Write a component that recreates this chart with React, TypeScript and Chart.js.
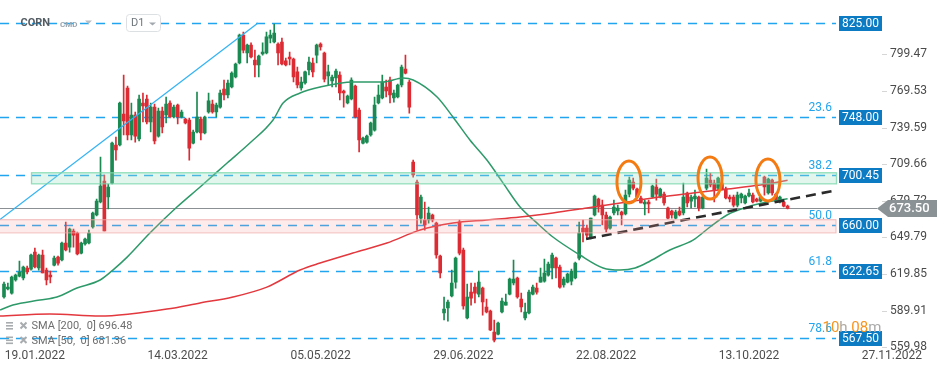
import React, { useEffect, useRef } from "react";
import { Chart, registerables } from "chart.js";

Chart.register(...registerables);

// ---- Daily OHLC (CORN, D1) ----
const OPEN = [
  601.1, 607.6, 604.3, 615.0, 618.2, 616.6, 624.8, 623.9, 637.8, 624.8,
  635.4, 623.1, 619.0, 627.2, 633.7, 631.3, 645.2, 641.9, 655.0, 653.4,
  637.0, 644.4, 645.2, 658.3, 668.1, 678.7, 695.9, 682.8, 694.2, 725.3,
  725.3, 750.6, 771.9, 733.5, 749.8, 730.2, 759.6, 762.9, 744.1, 756.3,
  732.6, 753.1, 749.8, 759.6, 748.2, 758.0, 748.2, 746.5, 745.7, 726.9,
  735.9, 746.5, 735.1, 752.3, 758.8, 752.3, 756.3, 771.1, 766.2, 772.7,
  780.9, 792.3, 815.2, 800.5, 807.0, 794.8, 790.7, 799.7, 800.5, 812.7,
  809.5, 807.8, 809.5, 794.0, 797.2, 795.6, 785.0, 771.9, 776.0, 786.6,
  792.3, 798.8, 807.8, 800.5, 781.7, 777.6, 780.1, 782.5, 769.4, 759.6,
  762.9, 773.5, 753.9, 726.9, 727.7, 733.5, 737.5, 759.6, 763.7, 772.7,
  778.4, 763.7, 764.5, 774.3, 787.4, 776.8, 711.4, 695.1, 665.6, 664.0,
  664.0, 668.1, 661.5, 634.6, 588.0, 592.1, 601.9, 613.3, 662.4, 639.5,
  583.9, 605.1, 609.2, 603.5, 608.4, 592.9, 589.6, 572.5, 570.8, 588.8,
  594.5, 603.5, 612.5, 616.6, 599.4, 583.9, 588.0, 603.5, 608.4, 613.3,
  614.1, 619.0, 624.8, 632.9, 625.6, 610.9, 613.3, 614.1, 616.6, 632.9,
  657.4, 657.4, 649.3, 668.1, 681.2, 676.2, 668.1, 657.4, 669.7, 671.4,
  670.5, 668.9, 685.2, 695.1, 689.3, 682.0, 677.1, 678.7, 682.8, 691.0,
  682.8, 685.2, 673.8, 671.4, 665.6, 671.4, 669.7, 686.1, 679.5, 681.2,
  682.8, 673.8, 690.1, 696.7, 694.2, 690.1, 694.2, 689.3, 682.8, 682.8,
  676.2, 682.0, 677.9, 683.6, 684.4, 681.2, 679.5, 699.1, 686.1, 696.7,
  685.2, 678.7, 678.7, 675.4,
];
const HIGH = [
  613.3, 612.5, 618.2, 619.9, 630.5, 626.4, 626.4, 636.2, 641.1, 636.2,
  639.5, 624.8, 622.3, 634.6, 634.6, 646.0, 662.4, 657.4, 656.6, 654.2,
  646.0, 649.3, 655.8, 670.5, 681.2, 715.5, 700.8, 693.4, 727.7, 731.8,
  760.4, 782.5, 773.5, 759.6, 752.3, 766.2, 767.8, 766.2, 759.6, 758.8,
  755.5, 756.3, 764.5, 761.3, 758.0, 758.8, 753.9, 747.4, 747.4, 737.5,
  768.6, 748.2, 749.0, 767.8, 762.1, 759.6, 770.2, 778.4, 778.4, 785.0,
  792.3, 816.0, 817.6, 807.8, 808.7, 802.9, 798.8, 808.7, 817.6, 819.3,
  824.2, 808.7, 812.7, 796.4, 801.3, 796.4, 789.0, 780.9, 785.8, 797.2,
  796.4, 807.8, 808.7, 801.3, 790.7, 782.5, 787.4, 785.0, 770.2, 766.2,
  780.1, 774.3, 755.5, 731.8, 733.5, 744.1, 764.5, 774.3, 782.5, 778.4,
  780.9, 770.2, 775.1, 790.7, 798.8, 778.4, 713.0, 696.7, 684.4, 678.7,
  674.6, 668.9, 662.4, 635.4, 601.1, 598.6, 623.1, 633.7, 664.0, 641.1,
  611.7, 612.5, 612.5, 622.3, 609.2, 599.4, 590.4, 582.3, 580.6, 600.2,
  603.5, 616.6, 631.3, 617.4, 604.3, 596.2, 606.8, 610.9, 612.5, 624.8,
  632.1, 629.7, 637.0, 633.7, 627.2, 617.4, 620.7, 623.9, 629.7, 662.4,
  664.0, 659.9, 665.6, 684.4, 682.0, 680.3, 670.5, 667.3, 680.3, 676.2,
  671.4, 688.5, 699.1, 698.3, 690.1, 683.6, 680.3, 680.3, 692.6, 697.5,
  690.1, 686.9, 674.6, 672.2, 672.2, 674.6, 694.2, 686.9, 684.4, 688.5,
  683.6, 683.6, 705.7, 702.4, 696.7, 699.1, 696.7, 691.0, 684.4, 684.4,
  686.9, 686.1, 684.4, 689.3, 686.1, 682.0, 683.6, 700.0, 698.3, 697.5,
  686.1, 683.6, 679.5, 676.2,
];
const LOW = [
  600.2, 606.8, 603.5, 614.1, 617.4, 615.0, 619.9, 623.1, 624.8, 623.1,
  620.7, 610.9, 612.5, 626.4, 627.2, 630.5, 638.7, 637.8, 641.9, 635.4,
  636.2, 643.5, 644.4, 657.4, 667.3, 677.9, 655.0, 673.0, 693.4, 713.0,
  724.5, 733.5, 729.4, 729.4, 727.7, 728.6, 744.1, 742.5, 735.9, 726.1,
  731.8, 735.1, 743.3, 747.4, 747.4, 742.5, 747.4, 742.5, 713.0, 726.1,
  735.1, 729.4, 734.3, 751.4, 751.4, 748.2, 755.5, 762.1, 763.7, 771.9,
  780.1, 791.5, 800.5, 792.3, 796.4, 780.9, 780.9, 798.8, 799.7, 808.7,
  808.7, 790.7, 790.7, 789.9, 790.7, 776.8, 771.9, 770.2, 775.1, 782.5,
  780.9, 792.3, 802.9, 776.8, 774.3, 772.7, 772.7, 762.1, 756.3, 758.8,
  762.1, 747.4, 719.6, 726.1, 726.9, 732.6, 736.7, 758.8, 762.9, 764.5,
  759.6, 760.4, 763.7, 772.7, 783.3, 751.4, 699.1, 655.8, 661.5, 655.8,
  661.5, 662.4, 632.9, 616.6, 582.3, 581.4, 601.1, 608.4, 635.4, 591.2,
  583.1, 594.5, 596.2, 601.1, 586.3, 588.0, 573.5, 564.3, 570.0, 588.0,
  594.5, 602.7, 610.9, 600.2, 588.8, 582.3, 587.2, 602.7, 603.5, 613.3,
  613.3, 618.2, 615.8, 616.6, 608.4, 609.2, 612.5, 610.9, 615.8, 631.3,
  646.0, 648.5, 648.5, 667.3, 670.5, 659.9, 654.2, 656.6, 668.1, 668.1,
  659.9, 668.1, 682.8, 688.5, 682.0, 677.9, 668.1, 669.7, 682.0, 680.3,
  682.0, 676.2, 664.8, 665.6, 664.8, 667.3, 668.1, 674.6, 673.8, 674.6,
  671.4, 673.0, 688.5, 691.0, 678.7, 688.5, 688.5, 681.2, 678.7, 674.6,
  674.6, 677.9, 677.1, 682.8, 677.9, 678.7, 678.7, 684.4, 685.2, 684.4,
  678.7, 677.9, 674.6, 673.0,
];
const CLOSE = [
  611.7, 609.2, 617.4, 619.0, 621.5, 625.6, 621.5, 635.4, 625.6, 635.4,
  620.7, 615.0, 617.4, 632.9, 628.8, 645.2, 639.5, 656.6, 651.7, 636.2,
  645.2, 648.5, 653.4, 669.7, 679.5, 691.8, 655.0, 691.0, 726.9, 721.2,
  759.6, 744.9, 733.5, 749.8, 732.6, 762.9, 757.2, 744.1, 756.3, 728.6,
  753.1, 740.0, 758.8, 748.2, 756.3, 748.2, 752.3, 743.3, 722.8, 735.9,
  748.2, 735.1, 748.2, 761.3, 752.3, 758.0, 767.8, 766.2, 776.0, 784.1,
  791.5, 815.2, 802.9, 807.0, 797.2, 790.7, 798.0, 801.3, 813.6, 815.2,
  816.8, 800.5, 791.5, 790.7, 795.6, 780.9, 774.3, 776.8, 785.0, 793.1,
  785.0, 807.0, 805.4, 779.2, 785.0, 780.9, 785.8, 767.8, 767.8, 765.3,
  778.4, 748.2, 729.4, 731.0, 732.6, 743.3, 758.0, 766.2, 776.8, 769.4,
  766.2, 767.8, 774.3, 789.0, 784.1, 756.3, 700.8, 668.1, 682.8, 659.9,
  669.7, 664.0, 635.4, 620.7, 591.2, 597.0, 612.5, 632.9, 637.0, 593.7,
  601.1, 600.2, 604.3, 613.3, 597.0, 588.8, 574.1, 565.9, 579.8, 597.8,
  597.0, 615.8, 615.8, 601.1, 592.9, 588.8, 605.1, 609.2, 605.1, 617.4,
  620.7, 628.0, 635.4, 624.8, 609.2, 615.8, 619.9, 622.3, 628.8, 653.4,
  654.2, 651.7, 665.6, 683.6, 674.6, 668.1, 656.6, 666.4, 674.6, 673.8,
  668.1, 684.4, 696.7, 690.1, 682.8, 677.9, 678.7, 677.1, 691.8, 685.2,
  689.3, 677.9, 665.6, 668.1, 670.5, 668.1, 682.8, 677.9, 682.8, 683.6,
  673.8, 682.8, 698.3, 692.6, 688.5, 698.3, 688.5, 682.0, 681.2, 676.2,
  684.4, 685.2, 683.6, 686.1, 678.7, 679.5, 682.8, 691.0, 697.5, 686.1,
  679.5, 682.8, 675.4, 673.5,
];

// ---- axis labels ----
const DATE_TICK_INDEX = [8, 45, 82, 119, 156, 193, 230];
const DATE_TICK_LABELS = ["19.01.2022", "14.03.2022", "05.05.2022", "29.06.2022", "22.08.2022", "13.10.2022", "27.11.2022"];
const PRICE_TICKS = [559.98, 589.91, 619.85, 649.79, 679.72, 709.66, 739.59, 769.53, 799.47];

// ---- moving averages ----
const SMA50_X = [-1.0, 2.3, 9.3, 13.7, 18.9, 24.9, 28.2, 31.9, 37.8, 44.8, 50.8, 57.8, 63.7, 69.7, 72.3, 76.7, 81.9, 90.4, 98.2, 103.4, 106.0, 112.2, 116.3, 120.7, 125.1, 129.3, 133.7, 138.1, 142.2, 149.2, 155.2, 159.6, 163.5, 167.4, 172.5, 178.5, 182.9, 187.3, 192.5, 197.7, 203];
const SMA50_Y = [590.4, 594.5, 598.6, 601.1, 608.4, 615.0, 623.1, 633.7, 653.4, 674.6, 691.0, 710.6, 726.9, 745.7, 759.6, 767.8, 772.7, 776.8, 776.8, 780.1, 778.4, 764.5, 748.2, 729.4, 713.0, 694.2, 674.6, 661.5, 650.1, 635.4, 624.8, 623.1, 624.8, 630.5, 639.5, 647.6, 658.3, 668.1, 674.6, 678.7, 681.4];
const SMA200_X = [-1.04, 11.9, 24.9, 32.6, 42.2, 50.8, 59.3, 68.1, 76.7, 81.9, 90.4, 99.2, 107.8, 116.3, 125.1, 133.7, 142.2, 151.0, 161.4, 169.9, 178.5, 187.3, 195.9, 203];
const SMA200_Y = [585.5, 587.2, 585.5, 587.2, 591.2, 596.2, 601.1, 609.2, 623.1, 628.8, 637.0, 645.2, 655.8, 661.5, 664.0, 666.4, 669.7, 673.8, 678.7, 682.8, 686.1, 689.3, 692.6, 696.5];
const SMA200_LAST = "696.48";
const SMA50_LAST = "681.36";

// ---- drawings ----
const FIB_LEVELS = [825.0, 748.0, 700.45, 660.0, 622.65, 567.5];
const FIB_NAMES = ["", "23.6", "38.2", "50.0", "61.8", "78.6"];
const GREEN_ZONE = [694.0, 703.0];
const GREEN_ZONE_START = 7;
const RED_ZONE = [653.9, 664.6];
const LAST_PRICE = 673.5;
const CHANNEL_X = [-1.04, 65.8];
const CHANNEL_Y = [664.4, 825.0];
const TREND_X = [150.8, 215.3];
const TREND_Y = [648.5, 688.1];
const MARK_X = [161.9, 182.9, 197.9];
const MARK_Y = [695.1, 698.3, 696.7];

const UP = "#1b8a52";
const DOWN = "#dc2b33";
const FIB_BLUE = "#22a5ef";
const BOX_BLUE = "#0d7bc4";
const FONT = "Roboto, 'Noto Sans', sans-serif";

const overlay = {
  id: "overlay",
  beforeDatasetsDraw(chart: any) {
    const { ctx, chartArea: a, scales } = chart;
    const y = scales.y;
    ctx.save();
    ctx.setLineDash([9, 7]);
    ctx.strokeStyle = FIB_BLUE;
    ctx.lineWidth = 1.3;
    FIB_LEVELS.forEach((v) => {
      const py = Math.round(y.getPixelForValue(v)) + 0.5;
      ctx.beginPath();
      ctx.moveTo(a.left, py);
      ctx.lineTo(a.right, py);
      ctx.stroke();
    });
    ctx.setLineDash([]);
    const lp = Math.round(y.getPixelForValue(LAST_PRICE)) + 0.5;
    ctx.strokeStyle = "#8a9093";
    ctx.lineWidth = 1.2;
    ctx.beginPath();
    ctx.moveTo(a.left, lp);
    ctx.lineTo(a.right + 41, lp);
    ctx.stroke();
    ctx.restore();
  },
  afterDatasetsDraw(chart: any) {
    const { ctx, chartArea: a, scales } = chart;
    const x = scales.x, y = scales.y;
    ctx.save();
    // green zone
    const gx = x.getPixelForValue(GREEN_ZONE_START);
    const g1 = y.getPixelForValue(GREEN_ZONE[1]);
    const g2 = y.getPixelForValue(GREEN_ZONE[0]);
    ctx.fillStyle = "rgba(160,225,195,0.30)";
    ctx.fillRect(gx, g1, a.right - gx, g2 - g1);
    ctx.strokeStyle = "rgba(120,215,170,0.8)";
    ctx.lineWidth = 1.3;
    ctx.strokeRect(gx + 0.5, g1 + 0.5, a.right - gx, g2 - g1);
    // red zone
    const r1 = y.getPixelForValue(RED_ZONE[1]);
    const r2 = y.getPixelForValue(RED_ZONE[0]);
    ctx.fillStyle = "rgba(245,150,150,0.20)";
    ctx.fillRect(a.left, r1, a.right - a.left, r2 - r1);
    ctx.strokeStyle = "rgba(240,170,170,0.8)";
    ctx.lineWidth = 1;
    ctx.strokeRect(a.left - 1, r1 + 0.5, a.right - a.left + 1, r2 - r1);
    // ellipses
    ctx.strokeStyle = "#f47a12";
    ctx.lineWidth = 3;
    MARK_X.forEach((mx, i) => {
      ctx.beginPath();
      ctx.ellipse(x.getPixelForValue(mx), y.getPixelForValue(MARK_Y[i]), 12, 21, 0, 0, Math.PI * 2);
      ctx.stroke();
    });
    ctx.restore();
  },
  afterDraw(chart: any) {
    const { ctx, chartArea: a, scales } = chart;
    const x = scales.x, y = scales.y;
    ctx.save();
    ctx.textBaseline = "middle";
    // axis tick marks
    ctx.strokeStyle = "#d6d6d6";
    ctx.lineWidth = 1;
    PRICE_TICKS.forEach((v) => {
      const py = Math.round(y.getPixelForValue(v)) + 0.5;
      ctx.beginPath();
      ctx.moveTo(882, py);
      ctx.lineTo(887, py);
      ctx.stroke();
    });
    // fib labels + price boxes
    FIB_LEVELS.forEach((v, i) => {
      const py = y.getPixelForValue(v);
      if (FIB_NAMES[i]) {
        ctx.fillStyle = FIB_BLUE;
        ctx.font = `12px ${FONT}`;
        ctx.textAlign = "right";
        ctx.fillText(FIB_NAMES[i], a.right - 4, py - 9);
      }
      ctx.fillStyle = BOX_BLUE;
      ctx.fillRect(a.right + 3, Math.round(py) - 7, 43, 15);
      ctx.fillStyle = "#ffffff";
      ctx.font = `12px ${FONT}`;
      ctx.textAlign = "center";
      ctx.fillText(v.toFixed(2), a.right + 24.5, Math.round(py) + 0.5);
    });
    // last price label
    const lp = y.getPixelForValue(LAST_PRICE);
    ctx.fillStyle = "#8b9295";
    ctx.beginPath();
    ctx.moveTo(877, lp);
    ctx.lineTo(888, lp - 8.5);
    ctx.lineTo(937, lp - 8.5);
    ctx.lineTo(937, lp + 8.5);
    ctx.lineTo(888, lp + 8.5);
    ctx.closePath();
    ctx.fill();
    ctx.fillStyle = "#ffffff";
    ctx.font = `500 13px ${FONT}`;
    ctx.textAlign = "left";
    ctx.fillText(LAST_PRICE.toFixed(2), 889, lp + 0.5);
    // date labels
    ctx.fillStyle = "#4d4d4d";
    ctx.font = `12px ${FONT}`;
    ctx.textAlign = "center";
    DATE_TICK_INDEX.forEach((idx, i) => {
      ctx.fillText(DATE_TICK_LABELS[i], x.getPixelForValue(idx), 356);
    });
    // header
    ctx.textAlign = "left";
    ctx.fillStyle = "#555d64";
    ctx.font = `bold 11px ${FONT}`;
    ctx.fillText("CORN", 20.5, 23.5);
    ctx.fillStyle = "#9ba5ad";
    ctx.font = `bold 8px ${FONT}`;
    ctx.fillText("CMD", 60, 24.5);
    ctx.fillStyle = "#b8bec3";
    ctx.beginPath();
    ctx.moveTo(85, 20.5);
    ctx.lineTo(92, 20.5);
    ctx.lineTo(88.5, 24);
    ctx.closePath();
    ctx.fill();
    ctx.fillStyle = "#ffffff";
    ctx.strokeStyle = "#dde0e3";
    ctx.lineWidth = 1;
    ctx.beginPath();
    (ctx as any).roundRect(126.5, 14.5, 34, 17, 3);
    ctx.fill();
    ctx.stroke();
    ctx.fillStyle = "#6f777d";
    ctx.font = `11px ${FONT}`;
    ctx.fillText("D1", 131, 23.5);
    ctx.fillStyle = "#a2a8ad";
    ctx.beginPath();
    ctx.moveTo(149, 22.5);
    ctx.lineTo(156, 22.5);
    ctx.lineTo(152.5, 25.5);
    ctx.closePath();
    ctx.fill();
    // legend
    const rows = [
      { y: 326, text: `SMA [200,  0] ${SMA200_LAST}` },
      { y: 340.5, text: `SMA [50,  0] ${SMA50_LAST}` },
    ];
    rows.forEach((r) => {
      ctx.fillStyle = "#a9acae";
      ctx.fillRect(6, r.y - 4, 7, 1.6);
      ctx.fillRect(6, r.y - 1, 7, 1.6);
      ctx.fillRect(6, r.y + 2, 7, 1.6);
      ctx.strokeStyle = "#a9acae";
      ctx.lineWidth = 2;
      ctx.beginPath();
      ctx.moveTo(20.5, r.y - 3.5);
      ctx.lineTo(26.5, r.y + 2.5);
      ctx.moveTo(26.5, r.y - 3.5);
      ctx.lineTo(20.5, r.y + 2.5);
      ctx.stroke();
      ctx.fillStyle = "#6e6e6e";
      ctx.font = `11px ${FONT}`;
      ctx.textAlign = "left";
      ctx.fillText(r.text, 31.5, r.y + 0.5);
    });
    // countdown
    ctx.font = `15px ${FONT}`;
    let cx = 822.5;
    const parts: [string, string][] = [["10", "#f7941d"], ["h ", "#b0a89f"], ["08", "#f7941d"], ["m", "#aaaaaa"]];
    parts.forEach(([t, c]) => {
      ctx.fillStyle = c;
      ctx.fillText(t, cx, 328);
      cx += ctx.measureText(t).width;
    });
    ctx.restore();
  },
};

export default function App() {
  const ref = useRef<HTMLCanvasElement>(null);
  useEffect(() => {
    const colors = OPEN.map((o, i) => (CLOSE[i] >= o ? UP : DOWN));
    const chart = new Chart(ref.current as HTMLCanvasElement, {
      type: "bar",
      data: {
        datasets: [
          {
            type: "line",
            data: TREND_X.map((v, i) => ({ x: v, y: TREND_Y[i] })),
            borderColor: "#2b2b2b",
            borderWidth: 2.6,
            borderDash: [10, 6],
            pointRadius: 0,
            order: -1,
          } as any,
          {
            type: "line",
            data: SMA200_X.map((v, i) => ({ x: v, y: SMA200_Y[i] })),
            borderColor: "#e2383e",
            borderWidth: 1.5,
            pointRadius: 0,
            cubicInterpolationMode: "monotone",
            order: 0,
          },
          {
            type: "line",
            data: SMA50_X.map((v, i) => ({ x: v, y: SMA50_Y[i] })),
            borderColor: "#2e9a6a",
            borderWidth: 1.5,
            pointRadius: 0,
            cubicInterpolationMode: "monotone",
            order: 0,
          },
          {
            type: "line",
            data: CHANNEL_X.map((v, i) => ({ x: v, y: CHANNEL_Y[i] })),
            borderColor: "#33b3f3",
            borderWidth: 1.3,
            pointRadius: 0,
            order: 0,
          },
          {
            type: "bar",
            data: OPEN.map((o, i) => ({ x: i, y: [o, CLOSE[i]] })),
            backgroundColor: colors,
            borderWidth: 0,
            barThickness: 3,
            minBarLength: 1,
            grouped: false,
            order: 1,
          } as any,
          {
            type: "bar",
            data: LOW.map((l, i) => ({ x: i, y: [l, HIGH[i]] })),
            backgroundColor: colors,
            borderWidth: 0,
            barThickness: 1,
            grouped: false,
            order: 2,
          } as any,
        ],
      },
      options: {
        animation: false,
        responsive: false,
        events: [],
        layout: { padding: { left: 0, right: 0, top: 0, bottom: 25.7 }, autoPadding: false } as any,
        plugins: { legend: { display: false }, tooltip: { enabled: false } },
        scales: {
          x: { type: "linear", min: -1.036, max: 215.54, display: false, offset: false },
          y: {
            type: "linear",
            position: "right",
            min: 559.98,
            max: 843.8,
            grid: { display: false, drawTicks: false },
            border: { display: false },
            afterFit: (s: any) => {
              s.width = 113;
              s.paddingTop = 0;
              s.paddingBottom = 0;
            },
            afterBuildTicks: (s: any) => {
              s.ticks = PRICE_TICKS.map((v) => ({ value: v }));
            },
            ticks: {
              autoSkip: false,
              padding: 54,
              color: "#4a4a4a",
              font: { family: FONT, size: 12 },
              callback: (v: any) => Number(v).toFixed(2),
            },
          },
        },
      } as any,
      plugins: [overlay],
    });
    return () => chart.destroy();
  }, []);
  return (
    <div style={{ position: "fixed", left: 0, top: 0, width: 949, height: 373, background: "#ffffff" }}>
      <canvas ref={ref} width={949} height={373} style={{ display: "block", width: 949, height: 373 }} />
    </div>
  );
}
